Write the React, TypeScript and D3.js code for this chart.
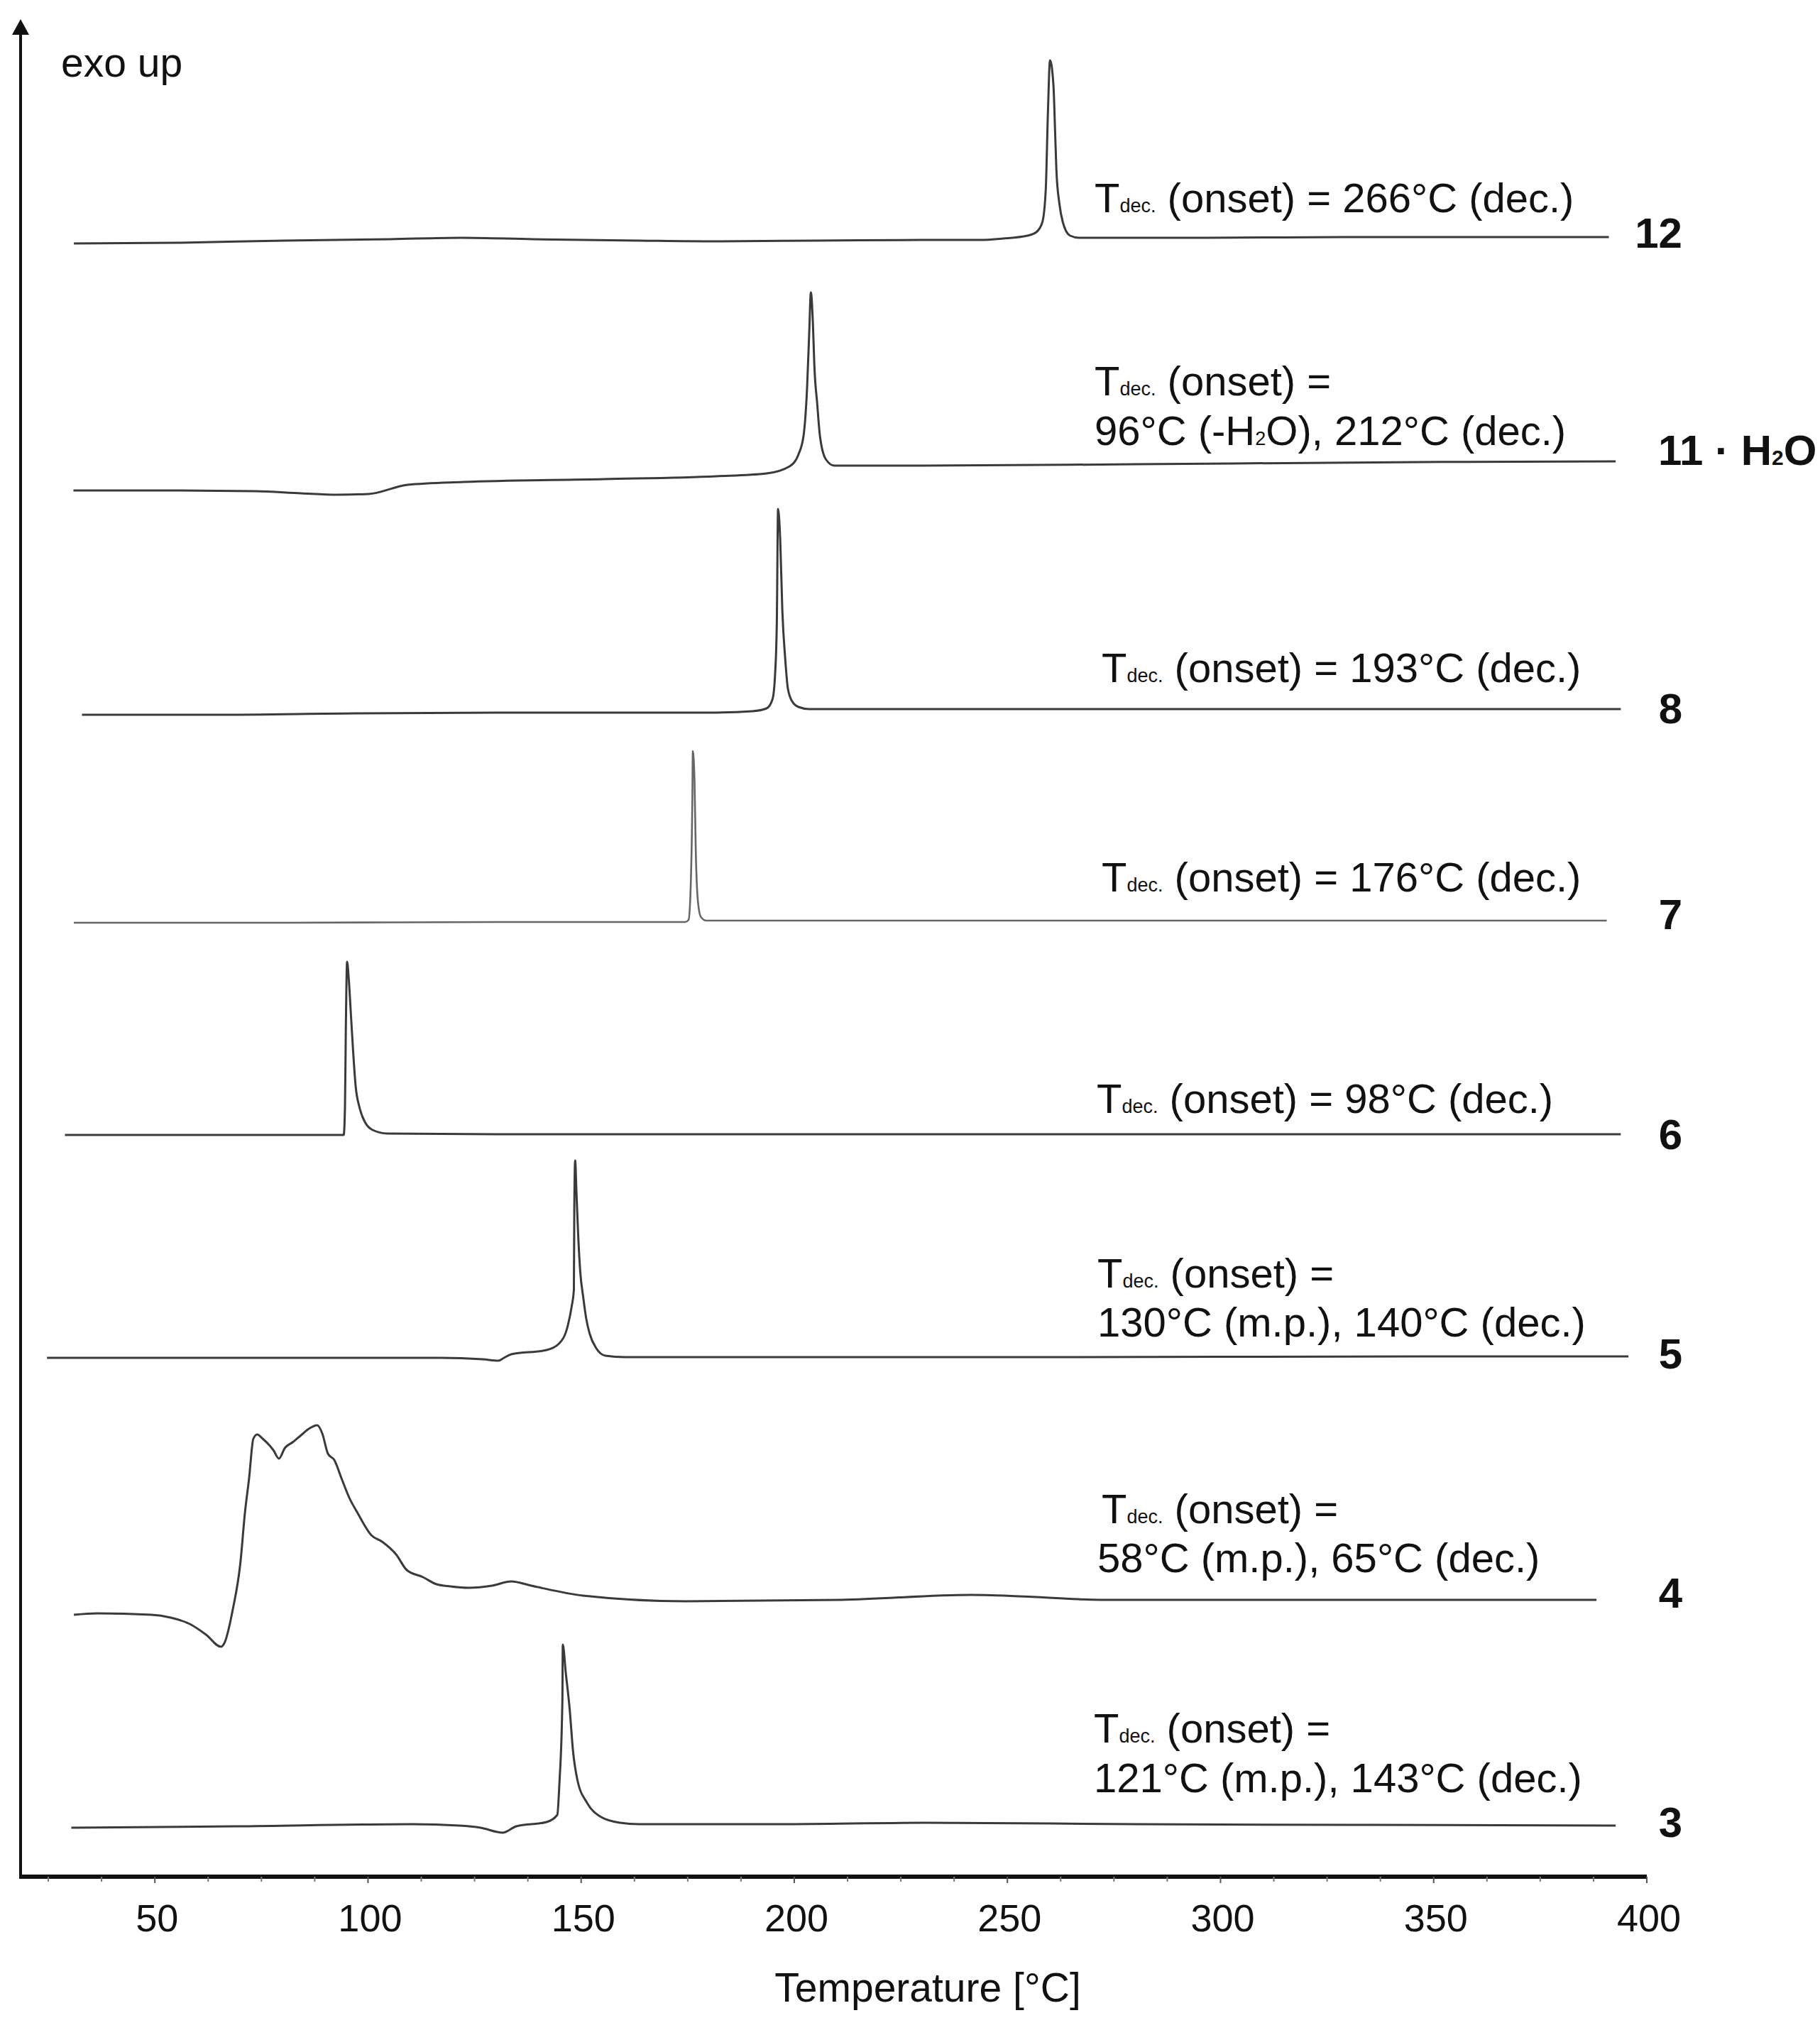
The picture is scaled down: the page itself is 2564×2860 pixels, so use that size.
import React from "react";
import * as d3 from "d3";

const W = 2564;
const H = 2860;

// x axis (temperature, °C)
const xDomain: [number, number] = [18.5, 400];
const xMajorTicks = [50, 100, 150, 200, 250, 300, 350, 400];
const xMinorStep = 12.5;
const xTitle = "Temperature [°C]";
const yLabel = "exo up";

// DSC traces: [temperature °C, signal (arbitrary units, stacked offsets)]
const trace12: [number, number][] = [
  [31.0, 230.1], [55.3, 230.2], [80.3, 230.5], [105.3, 230.7], [121.9, 230.9], [138.6, 230.7],
  [163.6, 230.5], [180.2, 230.4], [205.2, 230.5], [230.2, 230.6], [243.5, 230.6], [249.0, 230.8],
  [254.7, 231.2], [256.8, 231.7], [258.2, 233.1], [259.0, 237.7], [259.5, 248.4], [260.0, 255.9],
  [260.8, 252.4], [261.2, 245.7], [261.5, 240.4], [262.2, 235.7], [263.0, 233.1], [264.7, 231.2],
  [266.8, 230.9], [296.8, 230.9], [330.1, 231.0], [363.4, 231.0], [391.1, 231.0],
];

const trace11: [number, number][] = [
  [30.9, 195.3], [55.3, 195.3], [73.6, 195.2], [84.3, 194.9], [92.8, 194.7], [100.1, 194.8],
  [109.3, 196.1], [122.4, 196.5], [155.4, 196.9], [181.7, 197.3], [193.5, 197.7], [198.9, 198.7],
  [201.0, 200.4], [202.2, 203.1], [203.0, 209.7], [203.5, 217.4], [203.9, 223.2], [204.4, 218.4],
  [204.7, 213.1], [205.4, 207.4], [206.0, 203.1], [207.4, 199.7], [209.4, 198.8], [230.2, 198.8],
  [280.1, 199.0], [346.8, 199.3], [392.7, 199.4],
];

const trace8: [number, number][] = [
  [32.9, 163.7], [63.7, 163.7], [97.0, 163.9], [130.3, 164.0], [163.6, 164.0], [180.2, 164.0],
  [190.2, 164.2], [193.5, 164.6], [194.9, 165.9], [195.5, 169.4], [195.9, 176.4], [196.2, 192.7],
  [196.7, 188.4], [197.2, 178.4], [197.9, 171.4], [198.5, 167.4], [199.5, 165.6], [201.0, 164.8],
  [203.5, 164.5], [230.2, 164.5], [296.8, 164.5], [346.8, 164.5], [393.9, 164.5],
];

const trace7: [number, number][] = [
  [31.0, 134.4], [80.3, 134.4], [130.3, 134.5], [163.6, 134.5], [174.4, 134.5], [175.2, 134.8],
  [175.7, 139.4], [176.1, 152.4], [176.2, 158.6], [176.6, 154.4], [176.9, 144.4], [177.4, 137.4],
  [178.1, 135.2], [179.4, 134.7], [213.5, 134.7], [280.1, 134.7], [346.8, 134.7], [390.6, 134.7],
];

const trace6: [number, number][] = [
  [28.9, 104.5], [63.7, 104.5], [88.6, 104.5], [94.3, 104.5], [94.6, 108.4], [94.8, 119.4],
  [95.1, 128.9], [95.5, 126.4], [96.0, 121.4], [96.5, 116.4], [97.1, 111.4], [98.0, 108.4],
  [99.3, 106.3], [101.1, 105.2], [104.5, 104.7], [130.3, 104.6], [213.5, 104.6], [313.5, 104.6],
  [393.9, 104.6],
];

const trace5: [number, number][] = [
  [24.7, 73.1], [63.7, 73.1], [97.0, 73.1], [116.9, 73.1], [126.9, 72.9], [130.6, 72.7],
  [131.9, 73.1], [133.6, 73.6], [141.9, 74.2], [144.8, 75.1], [146.9, 77.7], [147.8, 80.4],
  [148.3, 82.7], [148.4, 94.4], [148.6, 100.9], [148.9, 96.5], [149.3, 90.5], [149.8, 85.2],
  [150.5, 81.6], [151.2, 78.6], [152.0, 76.5], [153.6, 74.4], [155.7, 73.4],
  [160.2, 73.2], [180.2, 73.2], [263.5, 73.2], [346.8, 73.3], [395.7, 73.3],
];

const trace4: [number, number][] = [
  [31.0, 36.9], [36.5, 37.1], [49.2, 36.9], [53.7, 36.5], [58.2, 35.6], [62.0, 34.1],
  [65.5, 32.4], [66.3, 32.9], [68.3, 37.7], [70.1, 44.4], [71.1, 51.1], [72.1, 56.1],
  [73.1, 61.7], [74.0, 62.3], [75.3, 61.7], [77.8, 60.1], [79.1, 58.9], [80.5, 60.4],
  [82.3, 61.2], [84.3, 62.2], [86.1, 63.1], [88.1, 63.6], [89.3, 62.4], [90.6, 59.6],
  [92.1, 58.7], [93.8, 56.1], [95.6, 53.4], [97.6, 51.2], [100.8, 48.1], [103.3, 47.2],
  [106.6, 45.4], [109.1, 43.2], [112.9, 42.2], [116.1, 41.2], [119.3, 40.9], [123.6, 40.7],
  [129.1, 41.0], [133.6, 41.6], [138.3, 41.0], [150.4, 39.6], [174.7, 38.8], [211.0, 39.0],
  [241.5, 39.7], [256.7, 39.4], [271.8, 39.0], [317.4, 39.0], [388.2, 39.0],
];

const trace3: [number, number][] = [
  [30.4, 6.9], [69.0, 7.1], [110.3, 7.4], [121.4, 7.2], [126.4, 6.9], [131.6, 6.2],
  [134.8, 7.1], [141.9, 7.7], [144.4, 8.7], [144.9, 13.1], [145.6, 24.7], [145.7, 32.7],
  [146.4, 28.7], [147.3, 23.7], [148.1, 17.7], [149.1, 13.7], [151.4, 10.4], [154.7, 8.4],
  [159.1, 7.6], [163.6, 7.4], [196.9, 7.4], [230.2, 7.6], [280.1, 7.4], [330.1, 7.3],
  [392.7, 7.2],
];

// sample labels (bold), "_{x}" marks a subscript
const sampleLabels = ["12", "11 · H_{2}O", "8", "7", "6", "5", "4", "3"];

// annotations per sample
const notes12 = ["T_{dec.} (onset) = 266°C (dec.)"];
const notes11 = ["T_{dec.} (onset) =", "96°C (-H_{2}O), 212°C (dec.)"];
const notes8 = ["T_{dec.} (onset) = 193°C (dec.)"];
const notes7 = ["T_{dec.} (onset) = 176°C (dec.)"];
const notes6 = ["T_{dec.} (onset) = 98°C (dec.)"];
const notes5 = ["T_{dec.} (onset) =", "130°C (m.p.), 140°C (dec.)"];
const notes4 = ["T_{dec.} (onset) =", "58°C (m.p.), 65°C (dec.)"];
const notes3 = ["T_{dec.} (onset) =", "121°C (m.p.), 143°C (dec.)"];

const traces = [trace12, trace11, trace8, trace7, trace6, trace5, trace4, trace3];
const notes = [notes12, notes11, notes8, notes7, notes6, notes5, notes4, notes3];

// layout (pixels)
const noteX = [[1542], [1542, 1542], [1552], [1552], [1545], [1546, 1546], [1552, 1546], [1541, 1541]];
const noteY = [[299], [557, 627], [961], [1256], [1568], [1814, 1883], [2146, 2215], [2455, 2525]];
const labelY = [349, 655, 1019, 1309, 1619, 1928, 2265, 2588];

const FONT = "'Liberation Sans', Arial, Helvetica, sans-serif";

function RichText({ text, x, y, size, subSize, weight, anchor }: any) {
  const parts: { t: string; sub: boolean }[] = [];
  const re = /_\{([^}]*)\}/g;
  let last = 0;
  let m: RegExpExecArray | null;
  while ((m = re.exec(text)) !== null) {
    if (m.index > last) parts.push({ t: text.slice(last, m.index), sub: false });
    parts.push({ t: m[1], sub: true });
    last = m.index + m[0].length;
  }
  if (last < text.length) parts.push({ t: text.slice(last), sub: false });
  return (
    <text
      x={x}
      y={y}
      fontFamily={FONT}
      fontSize={size}
      fontWeight={weight || "normal"}
      textAnchor={anchor || "start"}
      fill="#111"
      style={{ whiteSpace: "pre" }}
    >
      {parts.map((p, i) => (
        <tspan key={i} fontSize={p.sub ? subSize : size}>
          {p.t}
        </tspan>
      ))}
    </text>
  );
}

export default function App() {
  const xScale = d3.scaleLinear().domain(xDomain).range([29, 2320]);
  const yScale = d3.scaleLinear().domain([0, 261.7]).range([2644, 27]);
  const line = d3
    .line<[number, number]>()
    .x((d) => xScale(d[0]))
    .y((d) => yScale(d[1]))
    .curve(d3.curveMonotoneX);

  const minorTicks = d3
    .range(25, 400.01, xMinorStep)
    .filter((t) => !xMajorTicks.includes(t) && t >= xDomain[0]);

  const axisY = yScale(0);
  const axisX = xScale(xDomain[0]);
  const axisTop = yScale(261.7);

  return (
    <svg
      width={W}
      height={H}
      viewBox={`0 0 ${W} ${H}`}
      style={{ position: "absolute", left: 0, top: 0, background: "#fff" }}
    >
      <rect x={0} y={0} width={W} height={H} fill="#fff" />

      {/* traces */}
      {traces.map((tr, i) => (
        <path
          key={i}
          d={line(tr) || ""}
          fill="none"
          stroke={i === 3 ? "#666" : "#3a3a3a"}
          strokeWidth={i === 3 ? 2.6 : 3}
          strokeLinejoin="round"
        />
      ))}

      {/* annotations */}
      {notes.map((lines, i) =>
        lines.map((ln, j) => (
          <RichText
            key={`${i}-${j}`}
            text={ln}
            x={noteX[i][j]}
            y={noteY[i][j]}
            size={58}
            subSize={27}
          />
        ))
      )}

      {/* sample labels */}
      {sampleLabels.map((lb, i) => (
        <RichText
          key={lb}
          text={lb}
          x={i === 1 ? 2336 : 2370}
          y={labelY[i]}
          size={60}
          subSize={30}
          weight="bold"
          anchor={i === 1 ? "start" : "end"}
        />
      ))}

      {/* x axis */}
      <line x1={axisX - 2} x2={xScale(400)} y1={axisY} y2={axisY} stroke="#111" strokeWidth={6} />
      {xMajorTicks.map((t) => (
        <line key={`M${t}`} x1={xScale(t)} x2={xScale(t)} y1={axisY} y2={axisY + 9} stroke="#555" strokeWidth={2} />
      ))}
      {minorTicks.map((t) => (
        <line key={`m${t}`} x1={xScale(t)} x2={xScale(t)} y1={axisY} y2={axisY + 7} stroke="#777" strokeWidth={2} />
      ))}
      {xMajorTicks.map((t) => (
        <text
          key={`L${t}`}
          x={xScale(t) + 3}
          y={axisY + 77}
          textAnchor="middle"
          fontFamily={FONT}
          fontSize={54}
          fill="#111"
        >
          {t}
        </text>
      ))}
      <text
        x={1307}
        y={2820}
        textAnchor="middle"
        fontFamily={FONT}
        fontSize={57}
        fill="#111"
      >
        {xTitle}
      </text>

      {/* y axis with arrow */}
      <line x1={axisX} x2={axisX} y1={axisY + 3} y2={axisTop + 18} stroke="#111" strokeWidth={4} />
      <polygon
        points={`${axisX},${axisTop} ${axisX - 12},${axisTop + 22} ${axisX + 12},${axisTop + 22}`}
        fill="#111"
      />
      <text x={86} y={108} fontFamily={FONT} fontSize={57} fill="#111">
        {yLabel}
      </text>
    </svg>
  );
}
